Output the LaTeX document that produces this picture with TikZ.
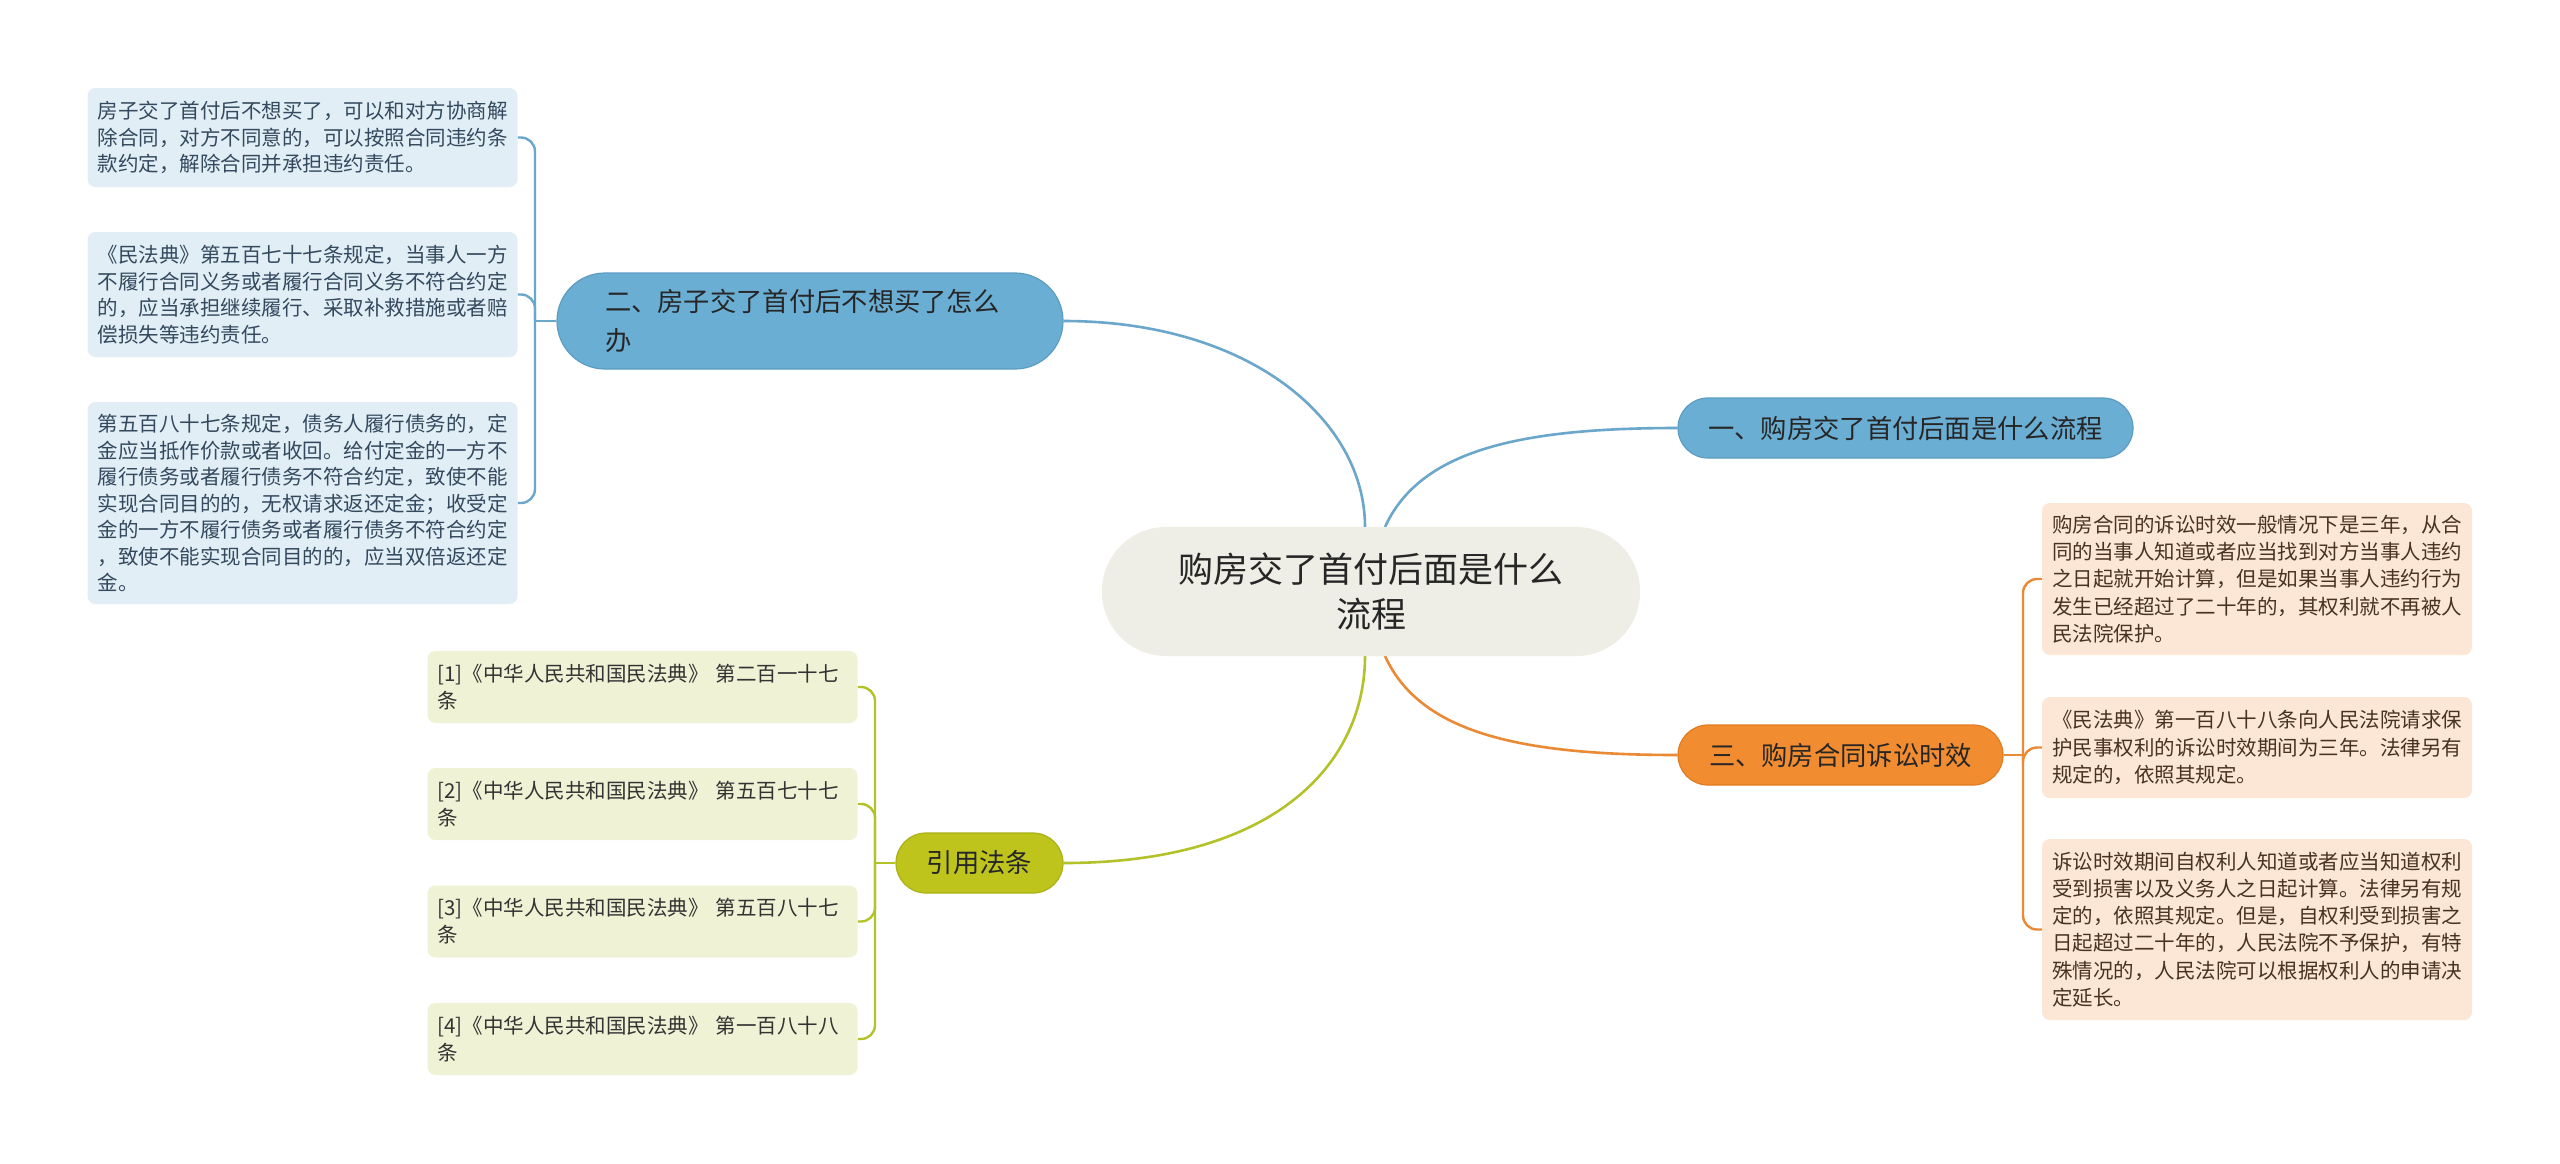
\documentclass[tikz,border=0pt]{standalone}
\usepackage{fontspec}
\newfontfamily\cjk{Noto Sans CJK SC}
\usetikzlibrary{backgrounds}
\definecolor{bluebr}{HTML}{6BAED3}
\definecolor{bluebd}{HTML}{5C9CC2}
\definecolor{blueln}{HTML}{6AA7CB}
\definecolor{orangebr}{HTML}{F28C30}
\definecolor{orangebd}{HTML}{E07C22}
\definecolor{orangeln}{HTML}{EB8A35}
\definecolor{greenbr}{HTML}{BEC41C}
\definecolor{greenbd}{HTML}{AAB218}
\definecolor{greenln}{HTML}{B4C22A}
\definecolor{centerfill}{HTML}{EEEEE6}
\definecolor{leafblue}{HTML}{E2EEF6}
\definecolor{leafpeach}{HTML}{FCE6D6}
\definecolor{leafgreen}{HTML}{F0F2D5}
\definecolor{txtblue}{HTML}{34495E}
\definecolor{txtbrown}{HTML}{4A3222}
\definecolor{txtdark}{HTML}{333333}
\begin{document}
\begin{tikzpicture}[x=1pt,y=-1pt,
  leafbox/.style={rectangle, rounded corners=8pt, inner sep=0pt, text width=410pt,
    align=left, minimum width=430pt},
  lblue/.style={leafbox, fill=leafblue, text=txtblue, font=\cjk\fontsize{20.5}{26.5}\selectfont},
  lpeach/.style={leafbox, fill=leafpeach, text=txtbrown, font=\cjk\fontsize{20.5}{27.3}\selectfont},
  lgreen/.style={leafbox, fill=leafgreen, text=txtdark, font=\cjk\fontsize{20.5}{27}\selectfont, minimum height=72pt},
  branchbox/.style={rectangle, inner sep=0pt, line width=1.2pt, text=black!85,
    font=\cjk\fontsize{26.3}{39}\selectfont},
  conn/.style={line width=2.6pt},
  brk/.style={line width=2.4pt, rounded corners=14pt}
]
% central topic
\node[rectangle, rounded corners=64pt, fill=centerfill, minimum width=538pt, minimum height=129pt,
  inner sep=0pt, text width=420pt, align=center, text=black!85,
  font=\cjk\fontsize{35}{45}\selectfont] (c) at (1371,591.5)
  {购房交了首付后面是什么\\流程};

% main branches
\node[branchbox, rounded corners=48pt, fill=bluebr, draw=bluebd, minimum width=506pt,
  minimum height=96pt, text width=410pt, align=left] (b2) at (810,321)
  {二、房子交了首付后不想买了怎么\\办};
\node[branchbox, rounded corners=30pt, fill=bluebr, draw=bluebd, minimum width=455pt,
  minimum height=60pt] (b1) at (1905.5,428) {一、购房交了首付后面是什么流程};
\node[branchbox, rounded corners=30pt, fill=orangebr, draw=orangebd, minimum width=325pt,
  minimum height=60pt] (b3) at (1840.5,755) {三、购房合同诉讼时效};
\node[branchbox, rounded corners=30pt, fill=greenbr, draw=greenbd, minimum width=167pt,
  minimum height=60pt] (b4) at (979.5,863) {引用法条};

% left leaves
\node[lblue, minimum height=99pt] (l1) at (302.5,137.5)
  {房子交了首付后不想买了，可以和对方协商解\\除合同，对方不同意的，可以按照合同违约条\\款约定，解除合同并承担违约责任。};
\node[lblue, minimum height=125pt] (l2) at (302.5,294.5)
  {《民法典》第五百七十七条规定，当事人一方\\不履行合同义务或者履行合同义务不符合约定\\的，应当承担继续履行、采取补救措施或者赔\\偿损失等违约责任。};
\node[lblue, minimum height=202pt] (l3) at (302.5,503)
  {第五百八十七条规定，债务人履行债务的，定\\金应当抵作价款或者收回。给付定金的一方不\\履行债务或者履行债务不符合约定，致使不能\\实现合同目的的，无权请求返还定金；收受定\\金的一方不履行债务或者履行债务不符合约定\\，致使不能实现合同目的的，应当双倍返还定\\金。};

% right leaves
\node[lpeach, minimum height=152pt] (r1) at (2257,579)
  {购房合同的诉讼时效一般情况下是三年，从合\\同的当事人知道或者应当找到对方当事人违约\\之日起就开始计算，但是如果当事人违约行为\\发生已经超过了二十年的，其权利就不再被人\\民法院保护。};
\node[lpeach, minimum height=101pt] (r2) at (2257,747.5)
  {《民法典》第一百八十八条向人民法院请求保\\护民事权利的诉讼时效期间为三年。法律另有\\规定的，依照其规定。};
\node[lpeach, minimum height=181pt] (r3) at (2257,929.5)
  {诉讼时效期间自权利人知道或者应当知道权利\\受到损害以及义务人之日起计算。法律另有规\\定的，依照其规定。但是，自权利受到损害之\\日起超过二十年的，人民法院不予保护，有特\\殊情况的，人民法院可以根据权利人的申请决\\定延长。};

% bottom-left leaves
\node[lgreen] (g1) at (642.5,687) {[1]《中华人民共和国民法典》 第二百一十七\\条};
\node[lgreen] (g2) at (642.5,804) {[2]《中华人民共和国民法典》 第五百七十七\\条};
\node[lgreen] (g3) at (642.5,921.5) {[3]《中华人民共和国民法典》 第五百八十七\\条};
\node[lgreen] (g4) at (642.5,1039) {[4]《中华人民共和国民法典》 第一百八十八\\条};

% junction and attachment coordinates
\coordinate (ctl) at (1365,527);
\coordinate (ctr) at (1385,527);
\coordinate (cbl) at (1365,656);
\coordinate (cbr) at (1385,656);
\coordinate (jl) at (535,321);
\coordinate (jr) at (2023,755);
\coordinate (jb) at (875,863);

\begin{pgfonlayer}{background}
\fill[white] (0,0) rectangle (2560,1163);
% center to branches
\draw[conn, blueln] (b2.east) .. controls (1250,321) and (1365,420) .. (ctl);
\draw[conn, blueln] (b1.west) .. controls (1520,428) and (1420,450) .. (ctr);
\draw[conn, orangeln] (b3.west) .. controls (1520,755) and (1420,733) .. (cbr);
\draw[conn, greenln] (b4.east) .. controls (1280,863) and (1365,760) .. (cbl);
% left bracket
\draw[brk, blueln] (b2.west) -- (jl);
\draw[brk, blueln] (l1.east) -| (jl);
\draw[brk, blueln] (l2.east) -| (jl);
\draw[brk, blueln] (l3.east) -| (jl);
% right bracket
\draw[brk, orangeln] (b3.east) -- (jr);
\draw[brk, orangeln] (r1.west) -| (jr);
\draw[brk, orangeln] (r2.west) -| (jr);
\draw[brk, orangeln] (r3.west) -| (jr);
% bottom bracket
\draw[brk, greenln] (b4.west) -- (jb);
\draw[brk, greenln] (g1.east) -| (jb);
\draw[brk, greenln] (g2.east) -| (jb);
\draw[brk, greenln] (g3.east) -| (jb);
\draw[brk, greenln] (g4.east) -| (jb);
\end{pgfonlayer}
\end{tikzpicture}
\end{document}
